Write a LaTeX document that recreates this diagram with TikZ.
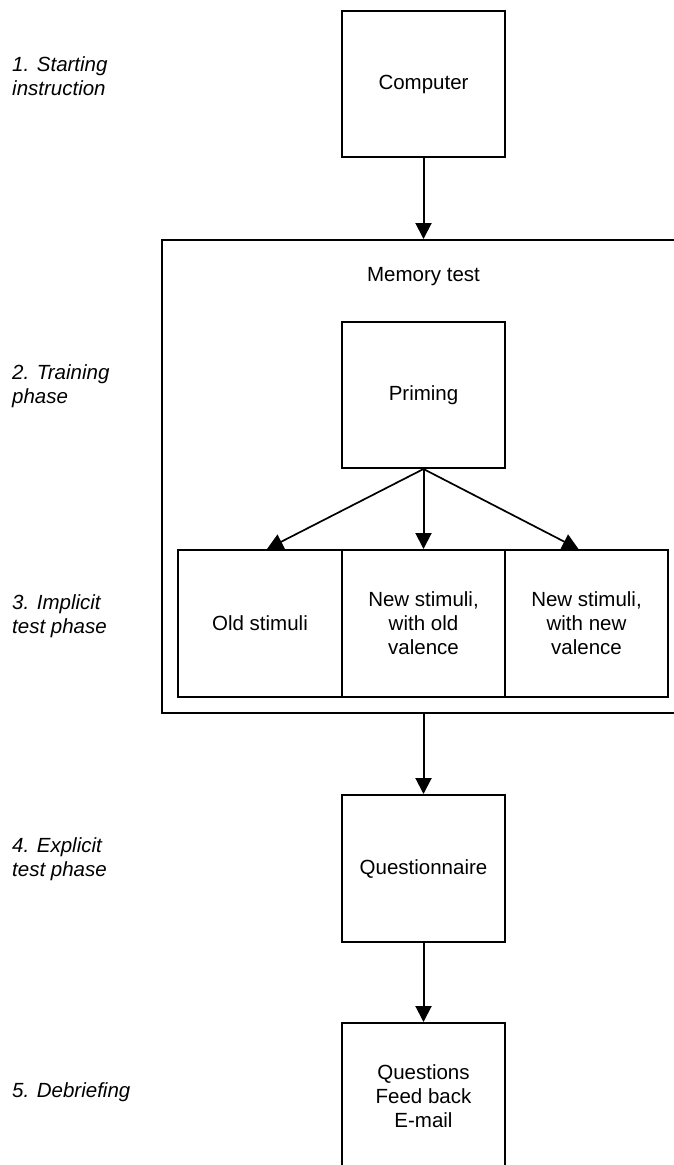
\documentclass[tikz,border=0pt]{standalone}
\usepackage{fontspec}
\setmainfont{Liberation Sans}
\usetikzlibrary{arrows.meta}
\begin{document}
\begin{tikzpicture}[x=1pt,y=-1pt,
  font=\fontsize{20.5}{24}\selectfont,
  box/.style={draw,line width=2pt,minimum width=163pt,minimum height=146pt,inner sep=0pt,align=center},
  frame/.style={draw,line width=2pt,minimum width=528pt,minimum height=473pt,inner sep=0pt},
  phase/.style={anchor=west,align=left,font=\fontsize{20.5}{24}\selectfont\itshape,inner sep=0pt},
  arr/.style={-{Triangle[width=16pt,length=16pt]},line width=2pt},
  thinarr/.style={-{Triangle[width=16pt,length=16pt]},line width=1.7pt}]
\useasboundingbox (0,0) rectangle (674,1165);
\clip (0,0) rectangle (674,1165);
% outer frame
\node[frame] (outer) at (426,476.5) {};
\node (memlabel) at (423.5,277) {Memory test};
% boxes
\node[box] (comp) at (423.5,84) {Computer};
\node[box] (prim) at (423.5,395) {Priming};
\node[box,minimum width=164pt,minimum height=147pt] (old) at (260,623.5) {Old stimuli};
\node[box,minimum width=163pt,minimum height=147pt] (newold) at (423.5,623.5) {New stimuli,\\with old\\valence};
\node[box,minimum width=163pt,minimum height=147pt] (newnew) at (586.5,623.5) {New stimuli,\\with new\\valence};
\node[box,minimum height=147pt] (quest) at (423.5,868.5) {Questionnaire};
\node[box,minimum height=147pt] (debr) at (423.5,1096.5) {Questions\\Feed back\\E-mail};
% phase labels
\node[phase] (p1) at (12,76) {1. Starting\\instruction};
\node[phase] (p2) at (12,386) {2. Training\\phase};
\node[phase] (p3) at (12,616) {3. Implicit\\test phase};
\node[phase] (p4) at (12,859) {4. Explicit\\test phase};
\node[phase] (p5) at (12,1092) {5. Debriefing};
% connectors
\draw[arr] (comp.south) -- (comp.south |- outer.north);
\draw[thinarr] (prim.south) -- ([xshift=7pt]old.north);
\draw[arr] (prim.south) -- (newold.north);
\draw[thinarr] (prim.south) -- ([xshift=-8pt]newnew.north);
\draw[arr] (quest.north |- outer.south) -- (quest.north);
\draw[arr] (quest.south) -- (debr.north);
\end{tikzpicture}
\end{document}
